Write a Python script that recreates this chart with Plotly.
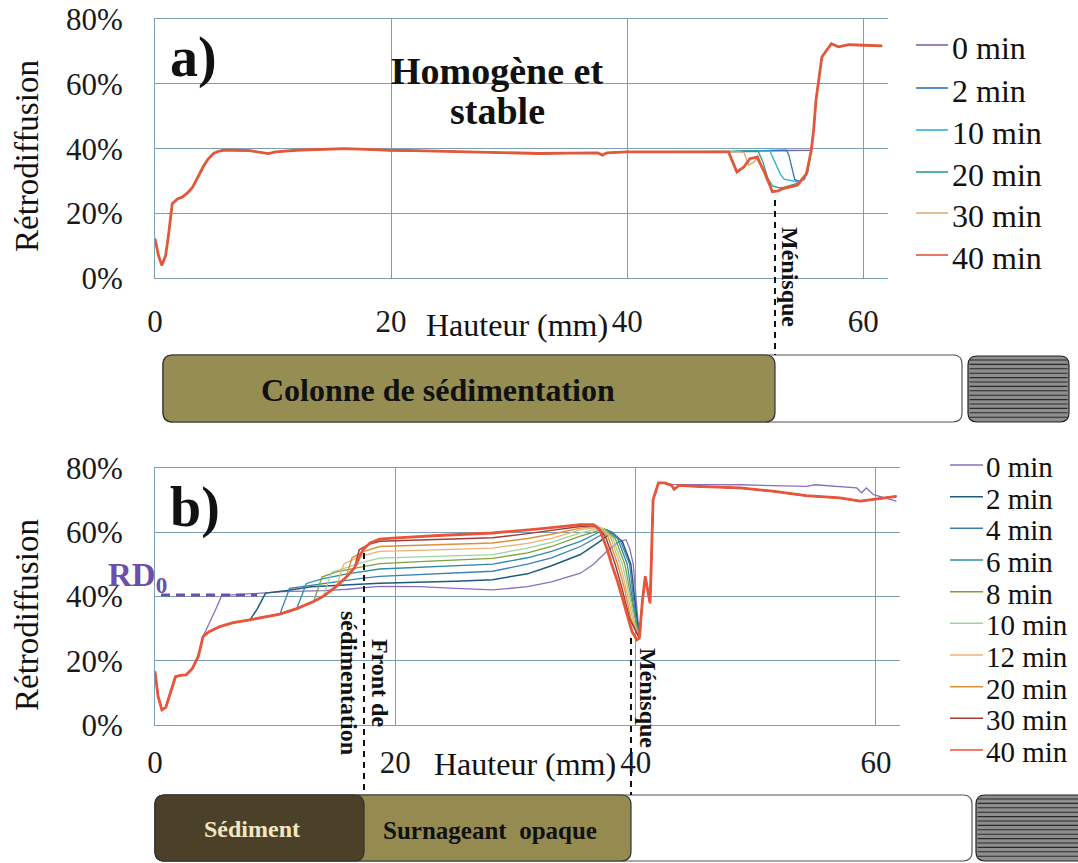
import plotly.graph_objects as go

# ---------------- data : panel a ----------------
A_NAMES = ["0 min", "2 min", "10 min", "20 min", "30 min", "40 min"]
A_HEAD_X = [0, 0.3, 0.58, 0.9, 1.16, 1.46, 1.9, 2.33, 2.8, 3.2, 3.6, 4.08, 4.5, 4.96, 5.4, 5.8, 6.5, 8, 9.6, 10.2,
            12, 14, 16, 18, 19.8, 22, 25, 28, 30, 32.6, 35, 37.5, 37.9, 38.3, 40, 42, 44.3, 46, 48.6]
A_HEAD_Y = [12.2, 7, 4.0, 7, 13.8, 23, 24.5, 25.1, 26.5, 28.2, 31, 34.4, 36.8, 38.5, 39.2, 39.5, 39.5, 39.4, 38.5, 39,
            39.5, 39.8, 40, 39.8, 39.5, 39.4, 39.2, 39, 38.8, 38.5, 38.6, 38.7, 38, 38.7, 39, 39, 39, 39.2, 39]
A_MID_X = [
    [50, 52, 54, 55.3],
    [50, 52, 53.5, 53.7, 54.0, 54.2, 54.6, 55.0, 55.3],
    [50, 51.5, 52.1, 52.5, 53.0, 53.3, 53.8, 54.4, 55.0, 55.3],
    [50, 51.1, 51.5, 51.9, 52.3, 52.8, 53.2, 53.8, 54.4, 55.0, 55.3],
    [49.6, 49.9, 50.3, 50.8, 51.1, 51.4, 51.8, 52.3, 52.8, 53.3, 54, 54.6, 55.2],
    [48.7, 49.3, 49.9, 50.4, 51, 51.7, 52.3, 52.8, 53.2, 53.8, 54.4, 55.2],
]
A_MID_Y = [
    [39.3, 39.4, 39.5, 39.5],
    [39.3, 39.4, 39.5, 38, 33, 30.5, 29.8, 31, 34],
    [39.3, 39.4, 39.3, 36, 32, 30.6, 30.2, 29.8, 30.5, 33],
    [39.2, 39.2, 36, 31, 28.5, 28, 28, 28.6, 29.3, 30.5, 33],
    [39, 38.8, 34.9, 36, 38, 34.4, 30.5, 27.2, 27, 27.6, 28.2, 29, 32.3],
    [38, 32.8, 34.4, 36.9, 37.4, 32.3, 26.7, 27, 27.7, 28.2, 28.7, 32.3],
]
A_TAIL_X = [55.6, 55.8, 56.0, 56.5, 57.3, 57.9, 58.8, 60.0, 61.6]
A_TAIL_Y = [39.5, 45.7, 55, 68.3, 72.4, 71.4, 72.1, 71.9, 71.7]

# ---------------- data : panel b ----------------
B_NAMES = ["0 min", "2 min", "4 min", "6 min", "8 min", "10 min", "12 min", "20 min", "30 min", "40 min"]
B_HEAD_X = [0, 0.25, 0.57, 0.9, 1.2, 1.7, 2.2, 2.6, 3.1, 3.6, 4.0]
B_HEAD_Y = [16.6, 9, 4.7, 5.5, 9, 15, 15.5, 15.6, 17.5, 21.3, 27.5]
B_SED_X = [4.5, 5.4, 6.5, 7.9, 9.3, 10.4, 11.8, 13.2, 14.0, 15.1, 15.9, 16.6, 17.3, 17.9, 18.7]
B_SED_Y = [29, 30.6, 31.8, 32.7, 33.6, 34.5, 36.2, 38.4, 40, 43.1, 45.9, 48.8, 54.5, 56.6, 57.8]
B_SHARED = [0, 4, 6, 7, 8, 9, 10, 11, 12, 15]
B_MID_X = [
    [4.6, 5.0, 5.55, 7, 10.7, 14, 16, 18.7, 22, 25, 28.1, 31, 33, 35.4, 36.5, 37.6, 38.6, 39.2, 39.5, 39.8, 40.0, 40.2],
    [8.5, 9.2, 11, 13, 15, 17, 18.7, 22, 25, 28.1, 31, 33, 35.4, 37, 38.0, 38.9, 39.6, 39.9, 40.15],
    [11.2, 13, 15, 17, 18.7, 22, 25, 28.1, 31, 33, 35.4, 37, 37.8, 38.7, 39.5, 39.8, 40.1],
    [12.6, 14, 16, 18.7, 22, 25, 28.1, 31, 33, 35.4, 37, 37.6, 38.5, 39.3, 39.7, 40.05],
    [13.9, 15, 17, 18.7, 22, 25, 28.1, 31, 33, 35.4, 37.4, 38.3, 39.1, 39.6, 40.0],
    [14.7, 16, 17.5, 18.7, 22, 25, 28.1, 31, 33, 35.4, 37.2, 38.1, 38.9, 39.5, 39.9],
    [15.7, 16.5, 17.6, 18.7, 22, 25, 28.1, 31, 33, 35.4, 37.0, 37.9, 38.7, 39.3, 39.8],
    [16.4, 17.4, 18.7, 22, 25, 28.1, 31, 33, 35.4, 36.8, 37.7, 38.5, 39.1, 39.6],
    [17.0, 17.8, 18.7, 22, 25, 28.1, 31, 33, 35.4, 36.7, 37.5, 38.3, 38.9, 39.5],
    [20.1, 24, 28.1, 32, 35.4, 36.5, 37, 37.6, 38.0, 38.5, 39.2, 39.7, 40.1],
]
B_MID_Y = [
    [32, 35.5, 40.2, 40.5, 41.5, 41.8, 42.2, 43.1, 43, 42.5, 42, 43, 44.5, 47.2, 50, 54, 57, 57.6, 55, 50, 40, 32],
    [36, 41, 41.8, 43, 43.5, 43.8, 44.1, 44.4, 44.7, 45.2, 47, 49.5, 53, 57, 60, 57, 50, 40, 31],
    [42.5, 43.5, 44.5, 45.5, 46.2, 46.8, 47.3, 47.8, 50, 52, 55.5, 58.8, 60.5, 57.5, 50, 40, 31],
    [44, 45.5, 47, 48.5, 49, 49.5, 50, 52, 54, 57.1, 60, 60.8, 58, 50, 40, 31],
    [46, 47.5, 49, 50.2, 50.8, 51.3, 51.8, 53.5, 55.5, 58.7, 61, 58, 50, 40, 32],
    [47.5, 49, 50.8, 51.9, 52.3, 52.7, 53, 55, 56.8, 59.7, 61.3, 58, 50, 40, 32],
    [50, 51.5, 53, 54, 54.3, 54.7, 55, 56.5, 58, 60.7, 61.5, 58.5, 50, 41, 32],
    [52, 54, 55.5, 55.9, 56.2, 56.6, 58, 59.3, 61.2, 61.8, 58.5, 50, 42, 33],
    [54.5, 56.2, 57.1, 57.5, 57.8, 58.2, 59.5, 60.5, 61.7, 62, 58.5, 50, 42, 33],
    [58.2, 59, 59.7, 61, 62.3, 62.3, 60.7, 55, 50, 44.6, 35.3, 29, 26.5],
]
B_TAIL_X = [40.3, 40.55, 40.8, 41.0, 41.2, 41.3, 41.45, 41.9, 42.4, 43.0, 43.2, 43.6, 45, 48.7, 51.4, 54.2, 57,
            58.7, 59.8, 61.7]
B_TAIL_Y = [27, 38, 46.2, 42, 37.9, 50, 70, 75.3, 75.3, 74.5, 73.3, 74.5, 74.2, 73.7, 72.7, 71.3, 70.6, 69.6,
            70.1, 71.1]
B_TAIL0_X = [40.4, 40.55, 40.8, 41.0, 41.2, 41.3, 41.45, 41.9, 42.4, 43.0, 45, 48.7, 51.4, 54.2, 54.9, 57,
             58.4, 58.8, 59.2, 59.8, 61.7]
B_TAIL0_Y = [28, 38, 46.2, 42, 37.9, 50, 70, 75.3, 75.3, 74.8, 74.8, 74.7, 74.4, 74.2, 74.7, 74.2, 73.7, 72.2,
             73.7, 71.6, 69.6]
RD0 = 40.4

X_TICKS = [0, 20, 40, 60]
Y_TICKS = [0, 20, 40, 60, 80]
Y_TICK_LABELS = ["0%", "20%", "40%", "60%", "80%"]

# ---------------- styling ----------------
W, H = 1078, 863
FONT = "Liberation Serif"
GRID = "#7C9FB4"
A_COLORS = ["#8064A2", "#2F74BC", "#33AEDC", "#2A9E85", "#DDB07A", "#E2583A"]
A_WIDTHS = [1.3, 1.3, 1.3, 1.3, 1.5, 2.8]
B_COLORS = ["#8A70BC", "#1E5A7A", "#3B7FB5", "#2E8CA6", "#7FA03A", "#9ED39A", "#F0B070", "#D9903F",
            "#9B3F3A", "#E8553A"]
B_WIDTHS = [1.3, 1.5, 1.3, 1.3, 1.3, 1.3, 1.3, 1.4, 1.5, 2.8]


def fx(p):
    return p / W


def fy(p):
    return 1 - p / H


fig = go.Figure()

for i, name in enumerate(A_NAMES):
    xs = A_HEAD_X + A_MID_X[i] + A_TAIL_X
    ys = A_HEAD_Y + A_MID_Y[i] + A_TAIL_Y
    fig.add_trace(go.Scatter(x=xs, y=ys, mode="lines", name=name, showlegend=False,
                             line=dict(color=A_COLORS[i], width=A_WIDTHS[i]), xaxis="x", yaxis="y"))

for i, name in enumerate(B_NAMES):
    n = B_SHARED[i]
    if i == 0:
        tx, ty = B_TAIL0_X, B_TAIL0_Y
    else:
        tx, ty = B_TAIL_X, B_TAIL_Y
    xs = B_HEAD_X + B_SED_X[:n] + B_MID_X[i] + tx
    ys = B_HEAD_Y + B_SED_Y[:n] + B_MID_Y[i] + ty
    fig.add_trace(go.Scatter(x=xs, y=ys, mode="lines", name=name, showlegend=False,
                             line=dict(color=B_COLORS[i], width=B_WIDTHS[i]), xaxis="x2", yaxis="y2"))

common = dict(showgrid=True, gridcolor=GRID, gridwidth=1, showline=True, linecolor=GRID, linewidth=1,
              zeroline=False, ticks="outside", tickcolor="rgba(0,0,0,0)", automargin=False,
              tickfont=dict(family=FONT, size=31, color="#1a1a1a"))

fig.update_layout(
    width=W, height=H, autosize=False, margin=dict(l=0, r=0, t=0, b=0, pad=0),
    paper_bgcolor="white", plot_bgcolor="white", showlegend=False,
    xaxis=dict(domain=[fx(155), fx(888)], range=[0, 62.1], tickvals=X_TICKS, ticklen=15, anchor="y",
               mirror=True, **common),
    yaxis=dict(domain=[fy(278.3), fy(19)], range=[0, 80], tickvals=Y_TICKS, ticktext=Y_TICK_LABELS,
               ticklen=25, anchor="x", **common),
    xaxis2=dict(domain=[fx(155), fx(900)], range=[0, 62], tickvals=X_TICKS, ticklen=10, anchor="y2",
                mirror=True, **common),
    yaxis2=dict(domain=[fy(725), fy(467.7)], range=[0, 80], tickvals=Y_TICKS, ticktext=Y_TICK_LABELS,
                ticklen=25, anchor="x2", **common),
)

ann = []


def text(x, y, t, size, bold=False, color="#111", angle=0, xanchor="center"):
    ann.append(dict(x=fx(x), y=fy(y), xref="paper", yref="paper", text=(f"<b>{t}</b>" if bold else t),
                    showarrow=False, textangle=angle, xanchor=xanchor, yanchor="middle",
                    font=dict(family=FONT, size=size, color=color)))


text(193, 57, "a)", 56, bold=True)
text(195, 507, "b)", 56, bold=True)
text(497, 71, "Homogène et", 38, bold=True)
text(497, 111, "stable", 38, bold=True)
text(27, 156, "Rétrodiffusion", 33, angle=-90)
text(27, 615, "Rétrodiffusion", 33, angle=-90)
text(517, 325, "Hauteur (mm)", 32)
text(525, 764, "Hauteur (mm)", 32)
text(790, 277, "Ménisque", 24, bold=True, angle=90)
text(648, 698, "Ménisque", 24, bold=True, angle=90)
text(365, 683, "Front de<br>sédimentation", 24, bold=True, angle=90)
text(137, 577, "RD<sub>0</sub>", 33, bold=True, color="#6A4FAE")
text(438, 390, "Colonne de sédimentation", 32, bold=True)
text(252, 829, "Sédiment", 24, bold=True, color="#F3E6C4")
text(490, 830, "Surnageant  opaque", 25, bold=True)

shapes = []

# legends (drawn manually to match spacing)
A_LEG_Y = [45, 88, 130, 172, 213, 255]
for i, name in enumerate(A_NAMES):
    shapes.append(dict(type="line", xref="paper", yref="paper", x0=fx(916), x1=fx(948), y0=fy(A_LEG_Y[i]),
                       y1=fy(A_LEG_Y[i]), line=dict(color=A_COLORS[i], width=1.6)))
    text(950, A_LEG_Y[i] + 3, name, 32, xanchor="left")
B_LEG_Y = [465, 496.7, 528.3, 560, 591.7, 623.3, 655, 686.7, 718.3, 750]
for i, name in enumerate(B_NAMES):
    shapes.append(dict(type="line", xref="paper", yref="paper", x0=fx(950), x1=fx(983), y0=fy(B_LEG_Y[i]),
                       y1=fy(B_LEG_Y[i]), line=dict(color=B_COLORS[i], width=1.6)))
    text(984, B_LEG_Y[i] + 2, name, 29, xanchor="left")


def rrect(x0, y0, x1, y1, r):
    a, b = fx(x0), fx(x1)
    t, u = fy(y0), fy(y1)
    rx, ry = r / W, r / H
    return (f"M {a + rx},{t} L {b - rx},{t} Q {b},{t} {b},{t - ry} L {b},{u + ry} Q {b},{u} {b - rx},{u} "
            f"L {a + rx},{u} Q {a},{u} {a},{u + ry} L {a},{t - ry} Q {a},{t} {a + rx},{t} Z")


def box(x0, y0, x1, y1, r, fill, line="#3a3a3a"):
    shapes.append(dict(type="path", xref="paper", yref="paper", path=rrect(x0, y0, x1, y1, r),
                       fillcolor=fill, line=dict(color=line, width=1.2), layer="below"))


def hatch(x0, y0, x1, y1):
    box(x0, y0, x1, y1, 9, "#8E8E8E", "#222")
    yy = y0 + 4.0
    while yy < y1 - 2:
        shapes.append(dict(type="line", xref="paper", yref="paper", x0=fx(x0 + 1.5), x1=fx(x1 - 1.5),
                           y0=fy(yy), y1=fy(yy), line=dict(color="#2a2a2a", width=1.1), layer="below"))
        yy += 4.4


# bar a
box(163, 355, 962, 422, 9, "white", "#555")
box(163, 355, 775, 422, 10, "#958D52", "#333")
hatch(968, 356, 1069, 422)
# bar b
box(155, 795, 972, 861, 9, "white", "#555")
box(155, 795, 631, 861, 10, "#958B50", "#333")
box(155, 795, 364, 861, 10, "#4A4128", "#333")
hatch(976, 795, 1090, 861)

# dashed lines
for (x, y0, y1) in [(775, 200, 355), (364, 553, 795), (631, 638, 795)]:
    shapes.append(dict(type="line", xref="paper", yref="paper", x0=fx(x), x1=fx(x), y0=fy(y0), y1=fy(y1),
                       line=dict(color="#111", width=2, dash="6px,5px")))
shapes.append(dict(type="line", xref="x2", yref="y2", x0=0.5, x1=8.5, y0=RD0, y1=RD0,
                   line=dict(color="#6A4FAE", width=3, dash="9px,6px")))

fig.update_layout(annotations=ann, shapes=shapes)
fig.write_html("out.html", config={"displayModeBar": False},
               post_script="document.body.style.margin='0';document.body.style.overflow='hidden';")
